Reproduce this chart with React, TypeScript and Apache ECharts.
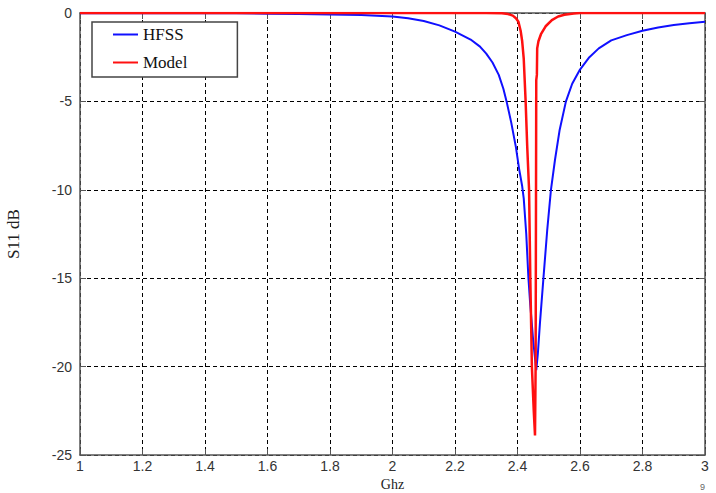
import React, { useEffect, useRef } from "react";
import * as echarts from "echarts";

const xTicks = [1, 1.2, 1.4, 1.6, 1.8, 2, 2.2, 2.4, 2.6, 2.8, 3];
const yTicks = [-25, -20, -15, -10, -5, 0];

const hfssFreq = [1.0, 1.2, 1.4, 1.5, 1.6, 1.7, 1.8, 1.9, 2.0, 2.05, 2.1, 2.15, 2.2, 2.25, 2.28, 2.3, 2.32, 2.34, 2.355, 2.365, 2.38, 2.395, 2.405, 2.415, 2.42, 2.428, 2.435, 2.44, 2.45, 2.46, 2.465, 2.472, 2.483, 2.495, 2.507, 2.52, 2.535, 2.555, 2.575, 2.6, 2.63, 2.66, 2.7, 2.75, 2.8, 2.85, 2.9, 2.95, 3.0];
const hfssS11 = [-0.01, -0.01, -0.01, -0.02, -0.04, -0.06, -0.08, -0.12, -0.2, -0.3, -0.45, -0.7, -1.05, -1.5, -1.9, -2.3, -2.8, -3.5, -4.3, -5.0, -6.2, -7.6, -8.8, -9.8, -10.5, -12.5, -15, -16.3, -18.5, -20.2, -19.3, -17.5, -15, -12.3, -10, -8.3, -6.6, -5, -4.0, -3.2, -2.5, -2.0, -1.55, -1.25, -1.0, -0.82, -0.68, -0.58, -0.5];

const modelFreq = [1.0, 2.3, 2.35, 2.37, 2.385, 2.395, 2.403, 2.41, 2.415, 2.42, 2.426, 2.431, 2.437, 2.441, 2.446, 2.452, 2.456, 2.458, 2.459, 2.46, 2.462, 2.463, 2.467, 2.475, 2.49, 2.51, 2.53, 2.55, 2.58, 2.6, 3.0];
const modelS11 = [0, 0, -0.02, -0.06, -0.15, -0.3, -0.5, -1.0, -1.6, -2.6, -5, -7.5, -10, -15, -20, -22.5, -23.9, -20, -12, -3.8, -3.5, -2.0, -1.6, -1.2, -0.75, -0.4, -0.2, -0.1, -0.03, 0, 0];

const pairs = (xs: number[], ys: number[]) => xs.map((x, i) => [x, ys[i]]);

const labelFont = "'Liberation Sans', Arial, sans-serif";
const serif = "'Liberation Serif', 'Times New Roman', serif";

export default function App() {
  const ref = useRef<HTMLDivElement>(null);
  useEffect(() => {
    if (!ref.current) return;
    const chart = echarts.init(ref.current, null, { renderer: "svg" });
    const frame = { lineStyle: { color: "#555", width: 1.5 } };
    const grid = { lineStyle: { color: "#000", type: [4, 3] as any, width: 1 } };
    chart.setOption({
      animation: false,
      backgroundColor: "#fff",
      grid: { left: 80, right: 11, top: 13, bottom: 38, containLabel: false, outerBoundsMode: "none" },
      legend: {
        left: 92,
        top: 22,
        orient: "vertical",
        icon: "rect",
        itemWidth: 25,
        itemHeight: 2,
        itemGap: 11,
        padding: [4, 50, 6, 21],
        borderColor: "#444",
        borderWidth: 1.5,
        backgroundColor: "#fff",
        textStyle: { fontFamily: serif, fontSize: 17, color: "#111" },
        data: ["HFSS", "Model"],
      },
      xAxis: [
        {
          type: "value",
          min: 1,
          max: 3,
          interval: 0.2,
          position: "bottom",
          name: "Ghz",
          nameLocation: "middle",
          nameGap: 21,
          nameTextStyle: { fontFamily: serif, fontSize: 14, color: "#222" },
          axisLine: { show: true, onZero: false, ...frame },
          axisTick: { show: true, inside: true, length: 6, lineStyle: { color: "#555" } },
          axisLabel: {
            fontFamily: labelFont,
            fontSize: 14,
            color: "#333",
            margin: 4,
            formatter: (v: number) => {
              const t = xTicks.find((k) => Math.abs(k - v) < 1e-6);
              return t === undefined ? "" : String(t);
            },
          },
          splitLine: { show: true, ...grid },
        },
        {
          type: "value",
          min: 1,
          max: 3,
          interval: 0.2,
          position: "top",
          axisLine: { show: true, onZero: false, ...frame },
          axisTick: { show: true, inside: true, length: 6, lineStyle: { color: "#555" } },
          axisLabel: { show: false },
          splitLine: { show: false },
        },
      ],
      yAxis: [
        {
          type: "value",
          min: -25,
          max: 0,
          interval: 5,
          position: "left",
          name: "S11 dB",
          nameLocation: "middle",
          nameGap: 58,
          nameRotate: 90,
          nameTextStyle: { fontFamily: serif, fontSize: 17, color: "#222" },
          axisLine: { show: true, onZero: false, ...frame },
          axisTick: { show: true, inside: true, length: 6, lineStyle: { color: "#555" } },
          axisLabel: {
            fontFamily: labelFont,
            fontSize: 14,
            color: "#333",
            margin: 8,
            formatter: (v: number) => {
              const t = yTicks.find((k) => Math.abs(k - v) < 1e-6);
              return t === undefined ? "" : String(t);
            },
          },
          splitLine: { show: true, ...grid },
        },
        {
          type: "value",
          min: -25,
          max: 0,
          interval: 5,
          position: "right",
          axisLine: { show: true, onZero: false, ...frame },
          axisTick: { show: true, inside: true, length: 6, lineStyle: { color: "#555" } },
          axisLabel: { show: false },
          splitLine: { show: false },
        },
      ],
      series: [
        {
          name: "HFSS",
          type: "line",
          showSymbol: false,
          data: pairs(hfssFreq, hfssS11),
          itemStyle: { color: "#1010ff" },
          lineStyle: { color: "#1010ff", width: 2 },
          z: 3,
        },
        {
          name: "Model",
          type: "line",
          showSymbol: false,
          data: pairs(modelFreq, modelS11),
          itemStyle: { color: "#ff1010" },
          lineStyle: { color: "#ff1010", width: 2.5 },
          z: 4,
        },
      ],
      graphic: [
        {
          type: "text",
          left: 700,
          top: 482,
          style: { text: "9", fontSize: 9, fill: "#666", fontFamily: labelFont },
        },
      ],
    });
    return () => chart.dispose();
  }, []);
  return <div ref={ref} style={{ width: 716, height: 493, position: "fixed", left: 0, top: 0 }} />;
}
